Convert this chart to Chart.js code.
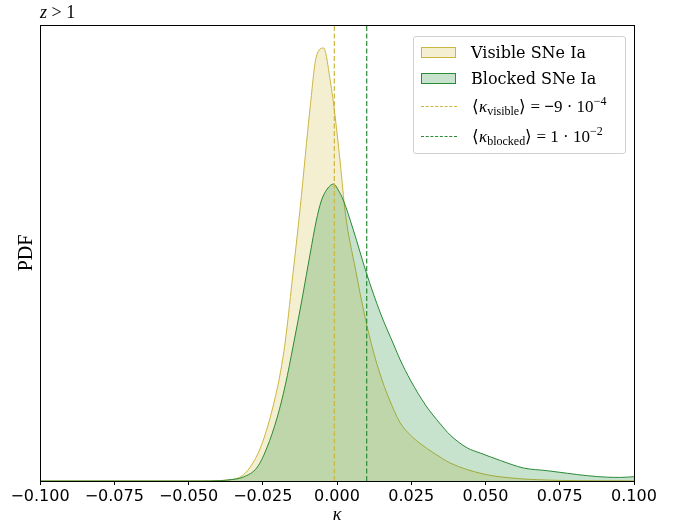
<!DOCTYPE html>
<html>
<head>
<meta charset="utf-8">
<script src="https://cdn.jsdelivr.net/npm/chart.js@4/dist/chart.umd.min.js"></script>
<style>
  html, body { margin: 0; padding: 0; background: #fff; }
  #wrap { position: relative; width: 673px; height: 521px; }
  #title { position: absolute; left: 40px; top: 2px; font-family: "Liberation Serif", serif; font-size: 18px; line-height: 20px; color: #000; }
  #legend { position: absolute; left: 413px; top: 36px; width: 211px; height: 116px; border: 1px solid #d0d0d0; border-radius: 3px; background: rgba(255,255,255,0.85); box-sizing: content-box; }
  .row { position: absolute; left: 0; height: 20px; display: flex; align-items: center; white-space: nowrap; }
  .sw { width: 35px; height: 11px; margin-left: 7px; margin-right: 15px; box-sizing: border-box; }
  .dl { width: 36px; height: 0; margin-left: 7px; margin-right: 15px; border-top: 1.2px dashed; }
  .txt { font-family: "DejaVu Serif", serif; font-size: 16px; color: #000; }
  .math { font-family: "Liberation Serif", serif; font-size: 17px; color: #000; }
  .math sub { font-size: 12px; vertical-align: -3px; }
  .math sup { font-size: 12px; vertical-align: 7px; }
</style>
</head>
<body>
<div id="wrap">
  <canvas id="c" width="673" height="521"></canvas>
  <div id="title"><i>z</i> &gt; 1</div>
  <div id="legend">
    <div class="row" style="top:5px"><div class="sw" id="swV"></div><span class="txt">Visible SNe Ia</span></div>
    <div class="row" style="top:31px"><div class="sw" id="swB"></div><span class="txt">Blocked SNe Ia</span></div>
    <div class="row" style="top:59px"><div class="dl" id="dlV"></div><span class="math">⟨<i>κ</i><sub>visible</sub>⟩ = <b>−</b>9 · 10<sup>−4</sup></span></div>
    <div class="row" style="top:89px"><div class="dl" id="dlB"></div><span class="math">⟨<i>κ</i><sub>blocked</sub>⟩ = 1 · 10<sup>−2</sup></span></div>
  </div>
</div>
<script>
// ---- Data ----
const kappaVisible = [-0.1, -0.046, -0.0393, -0.0326, -0.0292, -0.0258, -0.0231, -0.0211, -0.0194, -0.0174, -0.0151, -0.0124, -0.0090, -0.0070, -0.0045, -0.0023, -0.0006, 0.0011, 0.0028, 0.0062, 0.0095, 0.0122, 0.0146, 0.0173, 0.0213, 0.0247, 0.0280, 0.0331, 0.0381, 0.0493, 0.0607, 0.0752, 0.0887, 0.1];
const pdfVisible   = [0, 0, 0.05, 0.4, 1.4, 3.3, 5.7, 8.0, 10.3, 14.0, 20.0, 27.3, 37.5, 42.4, 43.3, 40.1, 36.4, 31.8, 26.8, 21.2, 16.3, 13.0, 10.6, 8.4, 5.8, 4.6, 3.75, 2.7, 1.8, 0.7, 0.25, 0.06, 0.02, 0.01];

const kappaBlocked = [-0.1, -0.046, -0.0393, -0.0369, -0.0315, -0.0268, -0.0235, -0.0201, -0.0174, -0.0147, -0.0117, -0.0090, -0.0070, -0.0053, -0.0033, -0.0011, 0.0004, 0.0021, 0.0055, 0.0098, 0.0146, 0.0190, 0.0213, 0.0247, 0.0298, 0.0348, 0.0381, 0.0439, 0.0482, 0.0550, 0.0628, 0.0708, 0.0776, 0.0843, 0.0910, 0.0954, 0.1];
const pdfBlocked   = [0, 0, 0.03, 0.1, 0.4, 1.4, 3.4, 6.4, 9.6, 13.6, 18.3, 22.8, 26.0, 28.0, 29.2, 29.7, 29.1, 28.1, 25.1, 20.9, 16.8, 13.7, 12.1, 10.1, 7.6, 5.7, 4.6, 3.3, 2.8, 2.05, 1.3, 1.03, 0.77, 0.53, 0.38, 0.36, 0.43];

const meanVisible = -0.0009;
const meanBlocked = 0.01;

const xTickValues = [-0.1, -0.075, -0.05, -0.025, 0, 0.025, 0.05, 0.075, 0.1];
const yMax = 45.6;

// ---- Styles ----
const visLine = '#cbb641';
const visFill = 'rgba(205,188,60,0.24)';
const blkLine = '#2b8a36';
const blkFill = 'rgba(15,128,40,0.23)';

document.getElementById('swV').style.cssText += `background:${visFill};border:1px solid ${visLine};`;
document.getElementById('swB').style.cssText += `background:${blkFill};border:1px solid ${blkLine};`;
document.getElementById('dlV').style.borderTopColor = visLine;
document.getElementById('dlB').style.borderTopColor = blkLine;

const toPts = (xs, ys) => xs.map((x, i) => ({ x: x, y: ys[i] }));

const framePlugin = {
  id: 'frame',
  afterDraw(chart) {
    const { ctx, chartArea: a } = chart;
    ctx.save();
    ctx.strokeStyle = '#000';
    ctx.lineWidth = 1;
    ctx.strokeRect(Math.round(a.left) + 0.5, Math.round(a.top) + 0.5, Math.round(a.right - a.left), Math.round(a.bottom - a.top));
    ctx.restore();
  }
};

new Chart(document.getElementById('c'), {
  type: 'line',
  data: {
    datasets: [
      { label: 'Visible SNe Ia', order: 3, data: toPts(kappaVisible, pdfVisible), borderColor: visLine, backgroundColor: visFill, fill: 'origin', borderWidth: 1, pointRadius: 0, cubicInterpolationMode: 'monotone' },
      { label: 'Blocked SNe Ia', order: 2, data: toPts(kappaBlocked, pdfBlocked), borderColor: blkLine, backgroundColor: blkFill, fill: 'origin', borderWidth: 1, pointRadius: 0, cubicInterpolationMode: 'monotone' },
      { label: 'mean visible', order: 1, data: [{ x: meanVisible, y: 0 }, { x: meanVisible, y: yMax }], borderColor: visLine, borderDash: [5, 2.5], borderWidth: 1.2, pointRadius: 0, fill: false },
      { label: 'mean blocked', order: 0, data: [{ x: meanBlocked, y: 0 }, { x: meanBlocked, y: yMax }], borderColor: blkLine, borderDash: [5, 2.5], borderWidth: 1.2, pointRadius: 0, fill: false }
    ]
  },
  options: {
    responsive: false,
    animation: false,
    layout: { padding: { left: 0, right: 39, top: 25, bottom: 0 } },
    plugins: { legend: { display: false }, tooltip: { enabled: false } },
    scales: {
      x: {
        type: 'linear', min: -0.1, max: 0.1,
        afterBuildTicks: (s) => { s.ticks = xTickValues.map(v => ({ value: v })); },
        afterFit: (s) => { s.height = 40; },
        ticks: { color: '#000', font: { family: 'DejaVu Sans', size: 16 }, padding: 2, maxRotation: 0, autoSkip: false,
          callback: (v) => (v < 0 ? '\u2212' : '') + Math.abs(v).toFixed(3) },
        grid: { display: true, drawOnChartArea: false, drawTicks: true, tickLength: 4, color: '#000', tickWidth: 1 },
        border: { display: false },
        title: { display: true, text: 'κ', color: '#000', font: { family: 'Liberation Serif', size: 18, style: 'italic', lineHeight: 0.6 }, padding: { top: 0, bottom: 0 } }
      },
      y: {
        type: 'linear', min: 0, max: yMax,
        afterFit: (s) => { s.width = 40; },
        ticks: { display: false },
        grid: { display: false },
        border: { display: false },
        title: { display: true, text: 'PDF', color: '#000', font: { family: 'Liberation Serif', size: 20, lineHeight: 1.2 }, padding: { top: 15, bottom: 0 } }
      }
    }
  },
  plugins: [framePlugin]
});
</script>
</body>
</html>
